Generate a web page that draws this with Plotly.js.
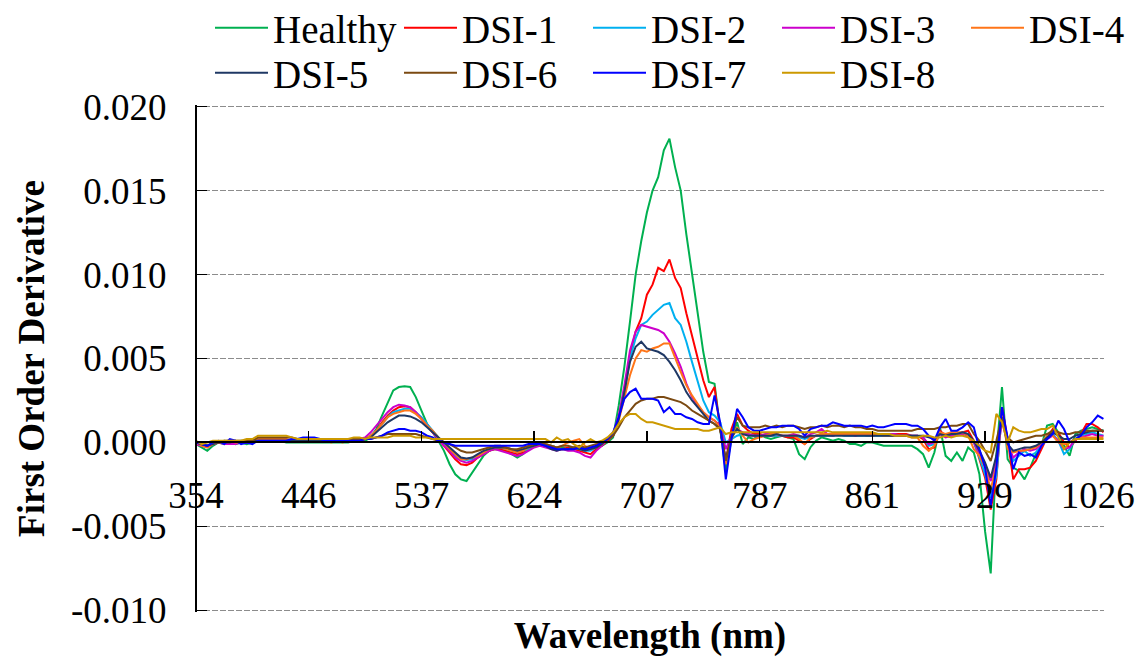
<!DOCTYPE html>
<html><head><meta charset="utf-8">
<script src="https://cdn.plot.ly/plotly-3.0.1.min.js"></script>
<style>html,body{margin:0;padding:0;background:#fff}#chart{width:1146px;height:657px}</style>
</head><body><div id="chart"></div>
<script>
// Wavelength tick labels (nm) shown every 20 bands on the category axis
const tickLabels = ['354','446','537','624','707','787','861','929','1026'];
const bandsPerTick = 20;

const seriesNames = ['Healthy','DSI-1','DSI-2','DSI-3','DSI-4','DSI-5','DSI-6','DSI-7','DSI-8'];
const seriesColors = ['#00B050','#FF0000','#00B0F0','#CC00CC','#FF7518','#1F3864','#7B4A12','#0000FF','#CC9900'];
// legend row/slot each series sits in (row 1: 5 entries, row 2: 4 entries)
const legendOf = ['legend','legend','legend','legend','legend3','legend2','legend2','legend2','legend2'];

const healthy = [
-0.0001,-0.0003,-0.0005,-0.0002,0,-0.0001,0,-0.0001,0,-0.0001,
0,0.0001,0.0001,0.0001,0.0001,0.0001,0,0,0,0,
0,0,0,0,0,0,0,0,0.0001,0.0001,
0.0001,0.0003,0.0008,0.0016,0.0024,0.0031,0.0033,0.00335,0.0033,0.0027,
0.0019,0.0011,0.0006,0.0001,-0.0005,-0.0013,-0.0019,-0.0022,-0.0023,-0.0018,
-0.0013,-0.0008,-0.0005,-0.0004,-0.0004,-0.0005,-0.0007,-0.0009,-0.0007,-0.0004,
-0.0002,-0.0001,-0.0001,-0.0002,-0.0003,-0.0003,-0.0004,-0.0004,-0.0003,-0.0004,
-0.0004,-0.0003,-0.0002,0,0.0003,0.0022,0.0045,0.0072,0.0100,0.0120,
0.0137,0.0150,0.0158,0.0174,0.0181,0.0164,0.0150,0.0124,0.0101,0.0077,
0.0054,0.0036,0.0035,0.0008,-0.0017,0.0002,0.0012,-0.0001,0.0003,0.0002,
0.0005,0.0003,0.0002,0.0003,0.0004,0.0003,0.0002,-0.0007,-0.0010,-0.0003,
0.0001,0.0003,0.0002,0.0001,0.0002,0.0001,-0.0001,-0.0001,-0.0002,0,
0,-0.0001,-0.0002,-0.0002,-0.0002,-0.0002,-0.0002,-0.0002,-0.0004,-0.0007,
-0.0015,-0.0006,0.0009,-0.0008,-0.0011,-0.0006,-0.0011,-0.0003,-0.0006,-0.0019,
-0.0053,-0.0078,-0.0008,0.0033,-0.0010,-0.0015,-0.0017,-0.0022,-0.0015,-0.0007,
-0.0002,0.0010,0.0011,0.0006,-0.0002,-0.0008,0.0005,0.0007,0.0008,0.0009,
0.0008,0.0007];

const dsi1 = [
0,-0.0002,-0.0002,-0.0001,0,0,0.0001,0,0,0.0001,
0.0001,0.0001,0.0002,0.0002,0.0002,0.0001,0.0001,0.0001,0.0001,0.0001,
0.0001,0.0001,0.0001,0.0001,0.0001,0.0001,0.0001,0.0001,0.0001,0.0001,
0.0002,0.0004,0.0007,0.0012,0.0016,0.0019,0.0021,0.00215,0.0021,0.0018,
0.0014,0.0010,0.0006,0.0002,-0.0002,-0.0006,-0.0010,-0.0013,-0.00135,-0.0012,
-0.0009,-0.0007,-0.0005,-0.0004,-0.0004,-0.0005,-0.0006,-0.0007,-0.0006,-0.0004,
-0.0002,-0.0001,-0.0002,-0.0003,-0.0004,-0.0004,-0.0003,-0.0004,-0.0005,-0.0006,
-0.0007,-0.0004,-0.0002,0.0001,0.0004,0.0015,0.0030,0.0052,0.0066,0.0074,
0.0088,0.0094,0.0104,0.0102,0.0109,0.0098,0.0092,0.0077,0.0064,0.0050,
0.0037,0.0027,0.0033,0.0008,-0.0011,0.0008,0.0017,0.0010,0.0007,0.0005,
0.0005,0.0004,0.0004,0.0004,0.0004,0.0003,0.0003,0.0001,-0.0001,0.0002,
0.0004,0.0005,0.0005,0.0005,0.0005,0.0005,0.0005,0.0004,0.0005,0.0004,
0.0004,0.0005,0.0005,0.0005,0.0005,0.0005,0.0005,0.0004,0.0004,0.0002,
-0.0004,-0.0003,0.0007,0.0004,0.0005,0.0005,0.0006,0.0007,0.0001,-0.0010,
-0.0021,-0.0040,-0.0022,0.0021,0.0002,-0.0022,-0.0016,-0.0016,-0.0015,-0.0011,
-0.0004,0.0003,0.0008,0.0006,0,-0.0003,0.0001,0.0005,0.0011,0.0011,
0.0009,0.0006];

const dsi2 = [
0,-0.0001,-0.0002,-0.0001,0,0.0001,0,0,0.0001,0,
0.0001,0.0001,0.0001,0.0002,0.0002,0.0001,0.0001,0.0001,0.0001,0.0001,
0.0001,0.0001,0.0001,0.0001,0.0001,0.0001,0.0001,0.0001,0.0001,0.0001,
0.0002,0.0004,0.0007,0.0011,0.0015,0.0018,0.0019,0.0020,0.0020,0.0018,
0.0015,0.0011,0.0007,0.0003,-0.0001,-0.0005,-0.0008,-0.0010,-0.00105,-0.0010,
-0.0008,-0.0006,-0.0004,-0.0003,-0.0003,-0.0004,-0.0005,-0.0006,-0.0005,-0.0004,
-0.0002,-0.0001,-0.0002,-0.0002,-0.0003,-0.0004,-0.0004,-0.0003,-0.0004,-0.0005,
-0.0005,-0.0003,-0.0001,0.0002,0.0004,0.0014,0.0030,0.0050,0.0062,0.0070,
0.0072,0.0076,0.0079,0.0082,0.0083,0.0074,0.0070,0.0060,0.0048,0.0036,
0.0025,0.0018,0.0016,0.0012,0.0000,0.0002,0.0004,0.0005,0.0005,0.0004,
0.0004,0.0004,0.0004,0.0004,0.0004,0.0004,0.0004,0.0003,0.0002,0.0003,
0.0004,0.0004,0.0004,0.0004,0.0005,0.0004,0.0004,0.0004,0.0004,0.0004,
0.0004,0.0004,0.0004,0.0004,0.0004,0.0004,0.0004,0.0004,0.0004,0.0003,
-0.0002,-0.0001,0.0006,0.0004,0.0004,0.0005,0.0006,0.0005,0,-0.0009,
-0.0019,-0.0033,-0.0020,0.0017,0.0001,-0.0011,-0.0008,-0.0005,-0.0008,-0.0006,
-0.0002,0.0002,0.0005,0.0001,-0.0007,-0.0004,0.0002,0.0004,0.0005,0.0006,
0.0005,0.0004];

const dsi3 = [
-0.0001,-0.0002,-0.0003,-0.0001,0,-0.0001,-0.0001,-0.0001,0,0,
0,0.0001,0.0001,0.0001,0.0001,0.0001,0.0001,0.0001,0.0001,0.0001,
0.0001,0.0001,0.0001,0.0001,0.0001,0.0001,0.0001,0.0001,0.0002,0.0002,
0.0003,0.0006,0.0010,0.0014,0.0018,0.0021,0.00225,0.0022,0.0021,0.0018,
0.0014,0.0010,0.0006,0.0002,-0.0002,-0.0005,-0.0009,-0.0011,-0.0012,-0.0011,
-0.0009,-0.0007,-0.0005,-0.0004,-0.0005,-0.0006,-0.0007,-0.0008,-0.0007,-0.0005,
-0.0003,-0.0002,-0.0003,-0.0004,-0.0005,-0.0004,-0.0005,-0.0005,-0.0006,-0.0008,
-0.0009,-0.0005,-0.0002,0.0002,0.0005,0.0016,0.0034,0.0055,0.0066,0.0070,
0.0069,0.0068,0.0067,0.0065,0.0060,0.0053,0.0045,0.0035,0.0027,0.0022,
0.0018,0.0015,0.0013,0.0010,-0.0004,0.0004,0.0008,0.0006,0.0005,0.0004,
0.0004,0.0005,0.0005,0.0005,0.0004,0.0004,0.0005,0.0004,0.0003,0.0005,
0.0006,0.0008,0.0005,0.0004,0.0005,0.0005,0.0005,0.0004,0.0005,0.0005,
0.0004,0.0005,0.0005,0.0005,0.0005,0.0004,0.0004,0.0004,0.0004,0.0003,
-0.0001,0.0000,0.0005,0.0003,0.0004,0.0004,0.0005,0.0004,0.0000,-0.0007,
-0.0014,-0.0023,-0.0012,0.0013,-0.0001,-0.0009,-0.0006,-0.0004,-0.0005,-0.0004,
-0.0001,0.0002,0.0004,0.0001,-0.0004,-0.0003,0.0002,0.0003,0.0004,0.0005,
0.0004,0.0004];

const dsi4 = [
0,-0.0002,-0.0003,-0.0001,0,0,0.0001,0,0,0,
0.0001,0.0002,0.0002,0.0002,0.0002,0.0002,0.0002,0.0001,0.0001,0.0001,
0.0001,0.0001,0.0001,0.0001,0,0.0001,0,0.0001,0.0001,0.0001,
0.0002,0.0004,0.0007,0.0011,0.0015,0.0017,0.0018,0.0019,0.0019,0.0017,
0.0014,0.0010,0.0007,0.0003,0,-0.0004,-0.0007,-0.0010,-0.0010,-0.0009,
-0.0008,-0.0006,-0.0004,-0.0003,-0.0003,-0.0004,-0.0005,-0.0006,-0.0005,-0.0003,
-0.0002,-0.0001,-0.0001,-0.0002,-0.0003,-0.0002,0,0.0001,0.0002,-0.0002,
-0.0004,-0.0003,-0.0001,0.0002,0.0004,0.0013,0.0026,0.0040,0.0050,0.0055,
0.0054,0.0056,0.0057,0.0059,0.0059,0.0050,0.0042,0.0034,0.0028,0.0023,
0.0018,0.0015,0.0013,0.0009,-0.0013,0.0002,0.0009,0.0004,0.0000,0.0002,
0.0003,0.0004,0.0005,0.0005,0.0004,0.0004,0.0004,0.0002,-0.0001,0.0003,
0.0004,0.0005,0.0005,0.0005,0.0005,0.0005,0.0005,0.0005,0.0005,0.0005,
0.0005,0.0005,0.0004,0.0004,0.0004,0.0004,0.0004,0.0003,0.0003,-0.0002,
-0.0005,-0.0002,0.0006,0.0005,0.0006,0.0006,0.0006,0.0004,-0.0004,-0.0008,
-0.0015,-0.0028,-0.0014,0.0017,-0.0004,-0.0006,-0.0005,-0.0005,-0.0004,-0.0003,
0,0.0004,0.0004,0,-0.0001,0,0.0002,0.0003,0.0003,0.0003,
0.0003,0.0003];

const dsi5 = [
0,-0.0001,-0.0002,-0.0001,0,0,0,0.0001,0,0,
0.0001,0.0001,0.0001,0.0001,0.0001,0.0001,0.0001,0.0001,0.0001,0.0001,
0.0001,0.0001,0.0001,0.0001,0.0001,0.0001,0.0001,0.0001,0.0001,0.0001,
0.0002,0.0003,0.0006,0.0009,0.0012,0.0014,0.0016,0.0016,0.00155,0.0014,
0.0012,0.0009,0.0006,0.0003,0,-0.0003,-0.0006,-0.0009,-0.00095,-0.0009,
-0.0007,-0.0005,-0.0004,-0.0003,-0.0003,-0.0003,-0.0004,-0.0005,-0.0004,-0.0003,
-0.0002,-0.0001,-0.0002,-0.0004,-0.0005,-0.0004,-0.0004,-0.0003,-0.0004,-0.0005,
-0.0004,-0.0003,-0.0001,0.0002,0.0004,0.0014,0.0030,0.0048,0.0057,0.0060,
0.0056,0.0055,0.0054,0.0052,0.0048,0.0043,0.0037,0.0030,0.0025,0.0021,
0.0017,0.0013,0.0011,0.0008,-0.0010,0.0003,0.0008,0.0005,0.0004,0.0004,
0.0004,0.0004,0.0004,0.0005,0.0004,0.0004,0.0004,0.0004,0.0003,0.0004,
0.0004,0.0004,0.0004,0.0004,0.0004,0.0004,0.0004,0.0004,0.0004,0.0004,
0.0004,0.0004,0.0004,0.0004,0.0004,0.0004,0.0004,0.0004,0.0004,0.0004,
0.0003,0.0002,0.0005,0.0004,0.0005,0.0005,0.0006,0.0005,0.0001,-0.0005,
-0.0012,-0.0021,-0.0008,0.0015,-0.0001,-0.0005,-0.0004,-0.0003,-0.0003,-0.0002,
0,0.0003,0.0006,0.0004,0.0002,0.0002,0.0004,0.0005,0.0006,0.0007,
0.0007,0.0007];

const dsi6 = [
0,-0.0001,-0.0002,0,0,0.0001,0.0001,0.0001,0.0001,0.0001,
0.0001,0.0003,0.0003,0.0003,0.0003,0.0003,0.0003,0.0003,0.0002,0.0002,
0.0002,0.0002,0.0002,0.0002,0.0002,0.0002,0.0002,0.0002,0.0002,0.0002,
0.0002,0.0002,0.0003,0.0004,0.0005,0.0005,0.0005,0.0005,0.0005,0.0005,
0.0004,0.0003,0.0002,0.0001,0,-0.0001,-0.0003,-0.0005,-0.0006,-0.0006,
-0.0005,-0.0004,-0.0003,-0.0002,-0.0002,-0.0003,-0.0004,-0.0004,-0.0003,-0.0002,
-0.0001,0,-0.0001,-0.0002,-0.0003,-0.0002,-0.0002,-0.0003,-0.0002,-0.0003,
-0.0002,-0.0001,0,0.0002,0.0004,0.0009,0.0015,0.0019,0.0023,0.0025,
0.0026,0.0026,0.0027,0.0027,0.0026,0.0025,0.0024,0.0022,0.0019,0.0017,
0.0015,0.0013,0.0011,0.0008,-0.0011,0.0004,0.0015,0.0010,0.0009,0.0009,
0.0009,0.0010,0.0009,0.0010,0.0009,0.0010,0.0010,0.0009,0.0008,0.0009,
0.0009,0.0010,0.0009,0.0010,0.0010,0.0009,0.0010,0.0009,0.0009,0.0008,
0.0008,0.0007,0.0007,0.0007,0.0007,0.0007,0.0007,0.0007,0.0008,0.0008,
0.0008,0.0008,0.0009,0.0009,0.0010,0.0010,0.0011,0.0011,0.0005,0.0001,
-0.0005,-0.0011,0.0001,0.0015,0.0003,0,0.0001,0.0002,0.0003,0.0004,
0.0004,0.0005,0.0007,0.0006,0.0005,0.0005,0.0006,0.0006,0.0007,0.0007,
0.0007,0.0007];

const dsi7 = [
0,-0.0001,-0.0002,0,0.0001,-0.0001,0.0002,0.0001,-0.0001,0,
-0.0001,0.0001,0.0001,0.0001,0.0001,0.0001,0.0001,0.0002,0.0002,0.0003,
0.0003,0.0003,0.0002,0.0001,0.0001,0.0001,0.0001,0.0001,0.0001,0.0001,
0.0002,0.0002,0.0003,0.0004,0.0006,0.0007,0.0008,0.0008,0.0007,0.0007,
0.0006,0.0004,0.0003,0.0001,0,-0.0001,-0.0002,-0.0002,-0.0002,-0.0002,
-0.0002,-0.0002,-0.0002,-0.0002,-0.0002,-0.0002,-0.0002,-0.0002,-0.0002,-0.0001,
-0.0001,-0.0001,-0.0002,-0.0003,-0.0004,-0.0004,-0.0004,-0.0004,-0.0003,-0.0004,
-0.0003,-0.0002,0,0.0002,0.0006,0.0015,0.0026,0.0030,0.0032,0.0026,
0.0026,0.0026,0.0025,0.0018,0.0021,0.0017,0.0017,0.0015,0.0014,0.0012,
0.0011,0.0011,0.0028,0.0012,-0.0022,0.0002,0.0020,0.0015,0.0009,0.0007,
0.0007,0.0008,0.0009,0.0009,0.0010,0.0010,0.0010,0.0008,0.0004,0.0008,
0.0009,0.0010,0.0010,0.0012,0.0011,0.0010,0.0010,0.0010,0.0010,0.0009,
0.0010,0.0009,0.0009,0.0010,0.0011,0.0011,0.0011,0.0010,0.0010,0.0008,
0.0004,0.0001,0.0009,0.0014,0.0007,0.0007,0.0009,0.0012,0.0009,-0.0004,
-0.0015,-0.0038,-0.0015,0.0021,0.0002,-0.0016,-0.0006,-0.0008,-0.0007,-0.0009,
-0.0002,0.0002,0.0005,0.0013,0.0008,0,0.0002,0.0004,0.0009,0.0012,
0.0016,0.0014];

const dsi8 = [
0.0001,-0.0001,0,0.0001,0.0001,0.0001,0.0001,0.0001,0.0001,0.0002,
0.0002,0.0004,0.0004,0.0004,0.0004,0.0004,0.0004,0.0003,0.0002,0.0002,
0.0002,0.0002,0.0002,0.0002,0.0002,0.0002,0.0002,0.0002,0.0003,0.0003,
0.0002,0.0003,0.0003,0.0003,0.0003,0.0004,0.0004,0.0004,0.0004,0.0003,
0.0003,0.0003,0.0002,0.0002,0.0002,0.0002,0.0002,0.0002,0.0002,0.0002,
0.0002,0.0002,0.0002,0.0002,0.0002,0.0002,0.0002,0.0002,0.0002,0.0002,
0.0002,0.0002,0.0002,0.0000,0.0003,0.0001,0.0002,-0.0001,-0.0003,0.0000,
0.0002,0.0000,0.0001,0.0003,0.0006,0.0011,0.0015,0.0017,0.0017,0.0014,
0.0012,0.0012,0.0011,0.0010,0.0009,0.0008,0.0008,0.0008,0.0008,0.0008,
0.0007,0.0007,0.0008,0.0009,0.0005,0.0006,0.0006,0.0006,0.0006,0.0006,
0.0006,0.0006,0.0006,0.0006,0.0006,0.0006,0.0006,0.0006,0.0006,0.0006,
0.0006,0.0006,0.0007,0.0006,0.0006,0.0006,0.0006,0.0006,0.0006,0.0006,
0.0006,0.0005,0.0005,0.0005,0.0004,0.0004,0.0004,0.0003,0.0003,0.0004,
0.0004,0.0003,0.0003,0.0004,0.0003,0.0004,0.0004,0.0003,0.0001,-0.0002,
-0.0005,-0.0006,0.0017,0.0012,0.0000,0.0009,0.0007,0.0006,0.0006,0.0007,
0.0008,0.0008,0.0010,0.0003,-0.0004,0,0.0002,0.0002,0.0002,0.0002,
0.0002,0.0002];

const seriesValues = [healthy, dsi1, dsi2, dsi3, dsi4, dsi5, dsi6, dsi7, dsi8];

const yMin = -0.010, yMax = 0.020, yStep = 0.005;
const yPad = 0.0001; // small pad so the end gridlines are not clipped
const yTickVals = [];
for (let v = yMin; v <= yMax + 1e-9; v += yStep) yTickVals.push(Math.round(v * 1000) / 1000);
const yTickText = yTickVals.map(v => v.toFixed(3));

const FONT = '"Liberation Serif","Times New Roman",serif';

const traces = seriesValues.map((vals, k) => ({
  type: 'scatter', mode: 'lines', name: seriesNames[k],
  x: vals.map((_, i) => i), y: vals,
  line: { color: seriesColors[k], width: 2 },
  legend: legendOf[k],
  hoverinfo: 'skip'
}));

const legendCommon = {
  orientation: 'h', xref: 'container', yref: 'container', xanchor: 'left', yanchor: 'middle',
  entrywidth: 121, entrywidthmode: 'pixels', itemwidth: 53, tracegroupgap: 0,
  font: { family: FONT, size: 39, color: '#000' }, bgcolor: 'rgba(0,0,0,0)', borderwidth: 0,
  itemclick: false, itemdoubleclick: false
};
const legendLeft = 210, legendStep = 189, row1Y = 28, row2Y = 73;

const layout = {
  width: 1146, height: 657,
  margin: { l: 196, r: 42, t: 102, b: 45 },
  paper_bgcolor: '#ffffff', plot_bgcolor: '#ffffff',
  font: { family: FONT, size: 37, color: '#000' },
  showlegend: true,
  xaxis: {
    range: [0, 161.1], tickmode: 'array',
    tickvals: tickLabels.map((_, i) => i * bandsPerTick), ticktext: tickLabels,
    anchor: 'free', position: (0 - (yMin - yPad)) / ((yMax + yPad) - (yMin - yPad)),
    showline: true, linecolor: '#000', linewidth: 2,
    ticks: 'inside', ticklen: 10, tickwidth: 1.5, tickcolor: '#000',
    showgrid: false, zeroline: false, automargin: false,
    tickfont: { family: FONT, size: 37, color: '#000' }, ticklabelstandoff: 20,
    title: { text: '<b>Wavelength (nm)</b>', font: { family: FONT, size: 37, color: '#000' }, standoff: 108 }
  },
  yaxis: {
    range: [yMin - yPad, yMax + yPad], tickmode: 'array', tickvals: yTickVals, ticktext: yTickText,
    anchor: 'free', position: 0,
    showline: true, linecolor: '#000', linewidth: 2,
    ticks: 'inside', ticklen: 10, tickwidth: 1.5, tickcolor: '#000',
    showgrid: true, gridcolor: '#8c8c8c', gridwidth: 1.2, griddash: '6px,2px',
    zeroline: false, automargin: false,
    tickfont: { family: FONT, size: 37, color: '#000' }, ticklabelstandoff: 21,
    title: { text: '<b>First Order Derivative</b>', font: { family: FONT, size: 37, color: '#000' }, standoff: 14 }
  },
  legend: Object.assign({}, legendCommon, { x: legendLeft / 1146, y: 1 - row1Y / 657 }),
  legend3: Object.assign({}, legendCommon, { x: (legendLeft + 4 * legendStep) / 1146, y: 1 - row1Y / 657 }),
  legend2: Object.assign({}, legendCommon, { x: legendLeft / 1146, y: 1 - row2Y / 657 })
};

Plotly.newPlot('chart', traces, layout, { displayModeBar: false, staticPlot: true });
</script>
</body></html>
